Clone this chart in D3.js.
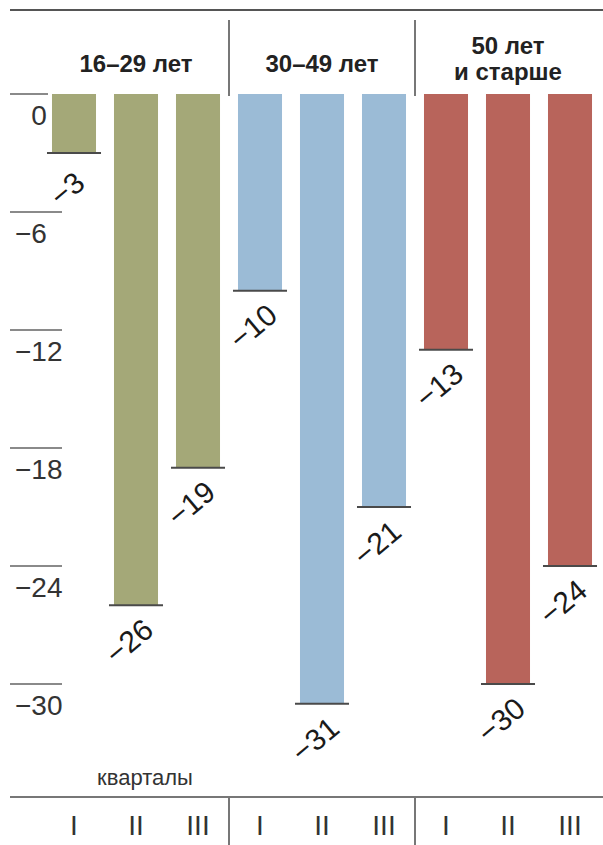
<!DOCTYPE html>
<html>
<head>
<meta charset="utf-8">
<script src="https://cdn.jsdelivr.net/npm/d3@7"></script>
<style>
  html, body { margin: 0; padding: 0; background: #fff; }
  svg { display: block; }
</style>
</head>
<body>
<svg id="chart" width="603" height="845"></svg>
<script>
// Age groups, quarters and change values (per cent)
const groups = ["16–29 лет", "30–49 лет", "50 лет\nи старше"];
const quarters = ["I", "II", "III"];
const values1629 = [-3, -26, -19];
const values3049 = [-10, -31, -21];
const values50 = [-13, -30, -24];
const yTicks = [0, -6, -12, -18, -24, -30];
const axisNote = "кварталы";

const groupColors = ["#a4a878", "#9bbbd6", "#b8645b"];
const seriesValues = [values1629, values3049, values50];

const rows = [];
groups.forEach((g, gi) => {
  quarters.forEach((q, qi) => {
    rows.push({ key: gi + "-" + qi, group: gi, quarter: q, value: seriesValues[gi][qi] });
  });
});

const svg = d3.select("#chart");
const W = 603, H = 845;

const x = d3.scaleBand()
  .domain(rows.map(d => d.key))
  .range([43, 601])
  .paddingInner(0.29)
  .paddingOuter(0.145);

const y = d3.scaleLinear().domain([0, -30]).range([94, 684]);

const narrow = "'Liberation Sans Narrow', 'Liberation Sans', Arial, sans-serif";
const regular = "'Liberation Sans', Arial, sans-serif";

// top rule
svg.append("line")
  .attr("x1", 10).attr("x2", W).attr("y1", 10).attr("y2", 10)
  .attr("stroke", "#555").attr("stroke-width", 2);

// group separators (x between last bar of a group and first of the next)
const sepX = [1, 2].map(gi => {
  const a = x(rows[gi * 3 - 1].key) + x.bandwidth();
  const b = x(rows[gi * 3].key);
  return (a + b) / 2;
});
sepX.forEach(sx => {
  svg.append("line").attr("x1", sx).attr("x2", sx).attr("y1", 20).attr("y2", 96)
    .attr("stroke", "#555").attr("stroke-width", 1.6);
  svg.append("line").attr("x1", sx).attr("x2", sx).attr("y1", 797).attr("y2", H)
    .attr("stroke", "#555").attr("stroke-width", 1.6);
});

// group headers
groups.forEach((g, gi) => {
  const first = x(rows[gi * 3].key);
  const last = x(rows[gi * 3 + 2].key) + x.bandwidth();
  const cx = (first + last) / 2;
  const lines = g.split("\n");
  const t = svg.append("text")
    .attr("x", cx)
    .attr("text-anchor", "middle")
    .attr("font-family", narrow)
    .attr("font-weight", "bold")
    .attr("font-size", 24)
    .attr("fill", "#222");
  if (lines.length === 1) {
    t.attr("y", 72).text(lines[0]);
  } else {
    lines.forEach((l, li) => {
      t.append("tspan").attr("x", cx).attr("y", 54 + li * 26).text(l);
    });
  }
});

// y ticks
const tickG = svg.append("g");
yTicks.forEach(t => {
  const yy = y(t);
  tickG.append("line")
    .attr("x1", 10).attr("x2", t === 0 ? 48 : 62)
    .attr("y1", yy).attr("y2", yy)
    .attr("stroke", "#8a8a8a").attr("stroke-width", 2);
  const txt = tickG.append("text")
    .attr("x", 15).attr("y", yy + 31)
    .attr("font-family", narrow)
    .attr("font-size", 28)
    .attr("fill", "#333");
  if (t === 0) {
    txt.append("tspan").attr("fill-opacity", 0).text("−");
    txt.append("tspan").text("0");
  } else {
    txt.text("−" + Math.abs(t));
  }
});

// bars
svg.append("g").selectAll("rect")
  .data(rows).join("rect")
  .attr("x", d => x(d.key))
  .attr("y", y(0))
  .attr("width", x.bandwidth())
  .attr("height", d => y(d.value) - y(0))
  .attr("fill", d => groupColors[d.group]);

// dark end rule under each bar
svg.append("g").selectAll("line")
  .data(rows).join("line")
  .attr("x1", d => x(d.key) - 5)
  .attr("x2", d => x(d.key) + x.bandwidth() + 5)
  .attr("y1", d => y(d.value))
  .attr("y2", d => y(d.value))
  .attr("stroke", "#4a4a4a").attr("stroke-width", 2);

// rotated value labels
svg.append("g").selectAll("text")
  .data(rows).join("text")
  .attr("transform", d => {
    const cx = x(d.key) + x.bandwidth() / 2 - 7;
    const cy = y(d.value) + 36;
    return `translate(${cx},${cy}) rotate(-40)`;
  })
  .attr("text-anchor", "middle")
  .attr("dominant-baseline", "central")
  .attr("font-family", regular)
  .attr("font-size", 30)
  .attr("fill", "#1a1a1a")
  .text(d => "−" + Math.abs(d.value));

// quarters axis
svg.append("text")
  .attr("x", 145).attr("y", 785)
  .attr("text-anchor", "middle")
  .attr("font-family", narrow)
  .attr("font-size", 22)
  .attr("fill", "#333")
  .text(axisNote);

svg.append("line")
  .attr("x1", 10).attr("x2", W).attr("y1", 797).attr("y2", 797)
  .attr("stroke", "#777").attr("stroke-width", 2);

svg.append("g").selectAll("text")
  .data(rows).join("text")
  .attr("x", d => x(d.key) + x.bandwidth() / 2)
  .attr("y", 835)
  .attr("text-anchor", "middle")
  .attr("font-family", narrow)
  .attr("font-size", 28)
  .attr("fill", "#333")
  .text(d => d.quarter);
</script>
</body>
</html>
